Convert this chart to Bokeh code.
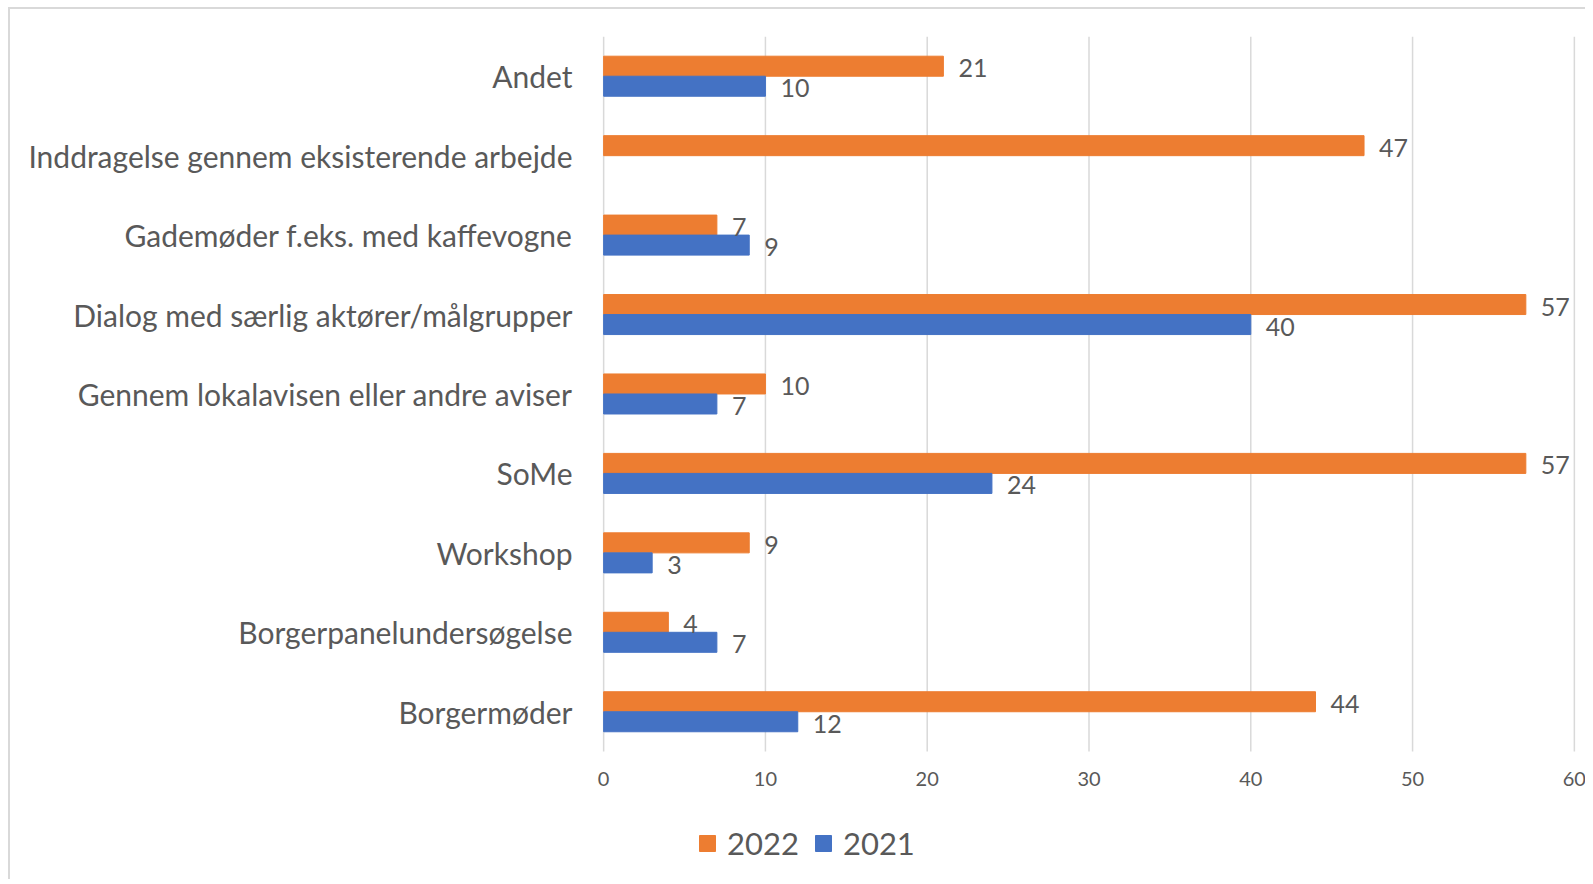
import numpy as np
from bokeh.plotting import figure
from bokeh.models import (ColumnDataSource, Range1d, LabelSet, Legend, LegendItem,
                          FixedTicker)
from bokeh.transform import dodge
from bokeh.core.properties import value
from bokeh.embed import file_html
from bokeh.resources import INLINE

categories = [
    "Andet",
    "Inddragelse gennem eksisterende arbejde",
    "Gademøder f.eks. med kaffevogne",
    "Dialog med særlig aktører/målgrupper",
    "Gennem lokalavisen eller andre aviser",
    "SoMe",
    "Workshop",
    "Borgerpanelundersøgelse",
    "Borgermøder",
]
values_2022 = [21, 47, 7, 57, 10, 57, 9, 4, 44]
values_2021 = [10, None, 9, 40, 7, 24, 3, 7, 12]
x_ticks = [0, 10, 20, 30, 40, 50, 60]
series_names = ["2022", "2021"]

FONT = "Lato"
TXT = "#595959"
ORANGE = "#ED7D31"
BLUE = "#4472C4"
GRID = "#d9d9d9"

n = len(categories)
ypos = [n - 1 - i for i in range(n)]          # first category on top
top_edge = n - 0.5
bottom_edge = -0.5

v21 = [np.nan if v is None else v for v in values_2021]
src22 = ColumnDataSource(dict(y=ypos, val=values_2022, lab=[str(v) for v in values_2022]))
src21 = ColumnDataSource(dict(y=ypos, val=v21))
y21 = [y for y, v in zip(ypos, values_2021) if v is not None]
l21 = [v for v in values_2021 if v is not None]
src21_lab = ColumnDataSource(dict(y=y21, val=l21, lab=[str(v) for v in l21]))
src_ticks = ColumnDataSource(dict(x=x_ticks, y=[bottom_edge] * len(x_ticks),
                                  lab=[str(t) for t in x_ticks]))

H = 872
TOP = 27
PITCH = 79.44
span = (H - TOP) / PITCH
XPAD = 0.75

p = figure(
    width=1577, height=H,
    x_range=Range1d(x_ticks[0] - XPAD, x_ticks[-1] + XPAD),
    y_range=Range1d(top_edge - span, top_edge),
    output_backend="svg", toolbar_location=None,
    min_border_left=581, min_border_right=1,
    min_border_top=TOP, min_border_bottom=0,
)
p.styles = {"border-top": "2px solid #d9d9d9", "border-left": "2px solid #d9d9d9",
            "margin-left": "8px", "margin-top": "7px"}
p.outline_line_color = None
p.background_fill_color = "white"
p.xaxis.visible = False
p.grid.visible = False

# vertical gridlines at the x ticks, spanning the category area only
p.segment(x0="x", x1="x", y0=bottom_edge, y1=top_edge, source=src_ticks,
          line_color=GRID, line_width=1.5)

r22 = p.hbar(y=dodge("y", 0.126), right="val", left=0, height=0.252,
             color=ORANGE, source=src22)
r21 = p.hbar(y=dodge("y", -0.126), right="val", left=0, height=0.252,
             color=BLUE, source=src21)

lab22 = LabelSet(x="val", y=dodge("y", 0.126), text="lab", source=src22,
                 x_offset=15, y_offset=-2, text_baseline="middle",
                 text_font=value(FONT), text_font_size=value("25px"), text_color=value(TXT))
lab21 = LabelSet(x="val", y=dodge("y", -0.126), text="lab", source=src21_lab,
                 x_offset=15, y_offset=-2, text_baseline="middle",
                 text_font=value(FONT), text_font_size=value("25px"), text_color=value(TXT))
p.add_layout(lab22)
p.add_layout(lab21)

# x tick labels
p.text(x="x", y="y", text="lab", source=src_ticks, y_offset=28,
       text_align="center", text_baseline="middle",
       text_font=value(FONT), text_font_size=value("20px"), text_color=TXT)

p.yaxis.ticker = FixedTicker(ticks=ypos)
p.yaxis.major_label_overrides = {y: c for y, c in zip(ypos, categories)}
p.yaxis.axis_line_color = None
p.yaxis.major_tick_line_color = None
p.yaxis.minor_tick_line_color = None
p.yaxis.major_label_standoff = 13
p.yaxis.major_label_text_font = FONT
p.yaxis.major_label_text_font_size = "30px"
p.yaxis.major_label_text_color = TXT

legend = Legend(items=[LegendItem(label=series_names[0], renderers=[r22]),
                       LegendItem(label=series_names[1], renderers=[r21])],
                location=(106, 19), orientation="horizontal",
                padding=0, margin=0, spacing=14,
                glyph_width=20, glyph_height=20, label_standoff=10,
                label_text_font=FONT, label_text_font_size="31px",
                label_text_color=TXT, border_line_color=None,
                background_fill_alpha=0)
p.add_layout(legend, "center")

open("out.html", "w").write(file_html(p, INLINE))
